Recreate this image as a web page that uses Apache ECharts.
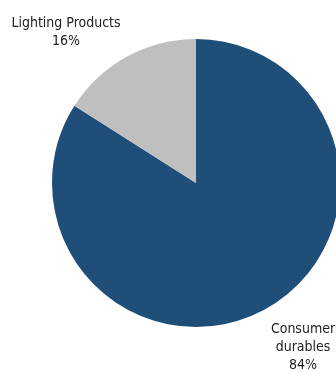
<!DOCTYPE html>
<html>
<head>
<meta charset="utf-8">
<script src="https://cdn.jsdelivr.net/npm/echarts@6/dist/echarts.min.js"></script>
<style>
html,body{margin:0;padding:0;background:#fff;}
#c{width:336px;height:372px;}
</style>
</head>
<body>
<div id="c"></div>
<script>
var categories = ['Consumer durables', 'Lighting Products'];
var labelTexts = ['Consumer\ndurables', 'Lighting Products'];
var values = [84, 16];
var colors = ['#1F4E79', '#BFBFBF'];
var labelAnchors = [[303, 347], [66, 32]];

var chart = echarts.init(document.getElementById('c'), null, {renderer: 'canvas'});
var data = categories.map(function (c, i) {
  return {name: c, value: values[i], itemStyle: {color: colors[i]}};
});
chart.setOption({
  animation: false,
  series: [{
    type: 'pie',
    center: [196, 183],
    radius: [0, 144],
    startAngle: 90,
    clockwise: true,
    data: data,
    itemStyle: {borderWidth: 0},
    label: {
      show: true,
      formatter: function (p) { return labelTexts[p.dataIndex] + '\n' + p.value + '%'; },
      fontFamily: '"Liberation Sans Narrow", "Arial Narrow", "DejaVu Sans Condensed", "Roboto Condensed", "Liberation Sans", sans-serif',
      fontSize: 14,
      lineHeight: 18,
      color: '#222',
      align: 'center',
      overflow: 'none',
      width: 200
    },
    labelLine: {show: false},
    labelLayout: function (params) {
      var a = labelAnchors[params.dataIndex];
      return {x: a[0], y: a[1], align: 'center', verticalAlign: 'middle'};
    }
  }]
});
</script>
</body>
</html>
